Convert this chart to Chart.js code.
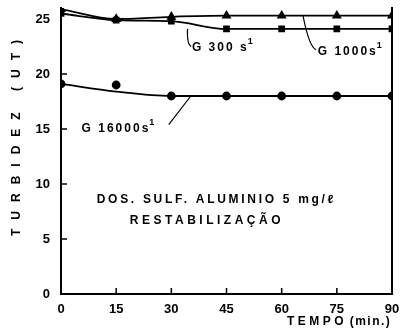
<!DOCTYPE html>
<html>
<head>
<meta charset="utf-8">
<script src="https://cdn.jsdelivr.net/npm/chart.js@4.4.1/dist/chart.umd.min.js"></script>
<style>
  html, body { margin: 0; padding: 0; background: #fff; }
  #wrap { width: 401px; height: 332px; }
</style>
</head>
<body>
<div id="wrap"><canvas id="turbChart" width="401" height="332"></canvas></div>
<script>
// time (min) and turbidity (UT) readings
const tempo = [0, 15, 30, 45, 60, 75, 90];
const g1000 = [25.9, 25.0, 25.2, 25.3, 25.3, 25.3, 25.3];
const g300 = [25.5, 24.9, 24.8, 24.1, 24.1, 24.1, 24.1];
const g16000 = [19.1, 19.0, 18.0, 18.0, 18.0, 18.0, 18.0];
// fitted curve drawn through the G 16000 points
const g16000Fit = [19.1, 18.4, 18.0, 18.0, 18.0, 18.0, 18.0];
const xTicks = [0, 15, 30, 45, 60, 75, 90];
const yTicks = [0, 5, 10, 15, 20, 25];

const pts = arr => tempo.map((t, i) => ({ x: t, y: arr[i] }));
const FONT = '"Liberation Sans", Arial, sans-serif';

function spacedText(ctx, text, x, y, font, spacing, align) {
    ctx.save();
    ctx.font = font;
    ctx.letterSpacing = spacing + 'px';
    const w = ctx.measureText(text).width - spacing;
    let x0 = x;
    if (align === 'center') x0 = x - w / 2;
    if (align === 'right') x0 = x - w;
    ctx.textAlign = 'left';
    ctx.textBaseline = 'middle';
    ctx.fillText(text, x0, y);
    ctx.restore();
    return x0 + w;
}

// G label with superscript "1"
function gLabel(ctx, text, x, y) {
    const end = spacedText(ctx, text, x, y, 'bold 12px ' + FONT, 2, 'left');
    ctx.save();
    ctx.font = 'bold 9px ' + FONT;
    ctx.textBaseline = 'middle';
    ctx.fillText('1', end + 1, y - 6);
    ctx.restore();
}

const decor = {
    id: 'decor',
    afterDraw(chart) {
        const ctx = chart.ctx;
        const xs = chart.scales.x, ys = chart.scales.y;
        const px = v => xs.getPixelForValue(v);
        const py = v => ys.getPixelForValue(v);
        ctx.save();
        ctx.strokeStyle = '#000';
        ctx.fillStyle = '#000';
        ctx.lineWidth = 1.5;

        // inward tick marks
        ctx.beginPath();
        xTicks.slice(1, -1).forEach(v => {
            ctx.moveTo(px(v), py(0));
            ctx.lineTo(px(v), py(0) - 6);
        });
        yTicks.slice(1, -1).forEach(v => {
            ctx.moveTo(px(0), py(v));
            ctx.lineTo(px(0) + 6, py(v));
        });
        ctx.stroke();

        // leader lines
        ctx.lineWidth = 1.2;
        ctx.beginPath();
        ctx.moveTo(px(34.4), py(24.1));
        ctx.quadraticCurveTo(px(34.2), py(22.7), px(35.4), py(22.5));
        ctx.moveTo(px(65.8), py(25.3));
        ctx.quadraticCurveTo(px(67.5), py(22.4), px(69.4), py(22.2));
        ctx.moveTo(px(35.3), py(18.0));
        ctx.lineTo(px(29.3), py(15.4));
        ctx.stroke();

        gLabel(ctx, 'G 300 s', px(35.6), py(22.4));
        gLabel(ctx, 'G 1000s', px(69.8), py(22.0));
        gLabel(ctx, 'G 16000s', px(5.6), py(15.0));

        // test conditions
        spacedText(ctx, 'DOS. SULF. ALUMINIO 5 mg/ℓ', px(41.9), py(8.6), 'bold 12px ' + FONT, 2.7, 'center');
        spacedText(ctx, 'RESTABILIZAÇÃO', px(39.2), py(6.7), 'bold 12px ' + FONT, 3.5, 'center');

        // axis titles
        const tEnd = spacedText(ctx, 'TEMPO', 287, 322, 'bold 12px ' + FONT, 3.5, 'left');
        spacedText(ctx, '(min.)', tEnd + 6, 322, 'bold 12px ' + FONT, 1.5, 'left');

        ctx.translate(17, 138);
        ctx.rotate(-Math.PI / 2);
        spacedText(ctx, 'TURBIDEZ (UT)', 0, 0, 'bold 12px ' + FONT, 9, 'center');
        ctx.restore();
    }
};

const markerStyle = {
    borderColor: '#000',
    backgroundColor: '#000',
    pointBackgroundColor: '#000',
    pointBorderColor: '#000',
    borderWidth: 1.8,
    cubicInterpolationMode: 'monotone'
};

new Chart(document.getElementById('turbChart'), {
    type: 'line',
    data: {
        datasets: [
            Object.assign({ label: 'G 1000 s-1', data: pts(g1000), pointStyle: 'triangle', pointRadius: 4 }, markerStyle),
            Object.assign({ label: 'G 300 s-1', data: pts(g300), pointStyle: 'rect', pointRadius: 3.5 }, markerStyle),
            Object.assign({ label: 'G 16000 s-1', data: pts(g16000), pointStyle: 'circle', pointRadius: 3.5, showLine: false }, markerStyle),
            Object.assign({ label: 'G 16000 ajuste', data: pts(g16000Fit), pointRadius: 0 }, markerStyle)
        ]
    },
    options: {
        responsive: false,
        animation: false,
        layout: { autoPadding: false, padding: { top: 8, right: 9, left: 0, bottom: 0 } },
        plugins: { legend: { display: false }, tooltip: { enabled: false } },
        scales: {
            x: {
                type: 'linear',
                min: 0,
                max: 90,
                afterBuildTicks: s => { s.ticks = xTicks.map(v => ({ value: v })); },
                afterFit: s => { s.height = 38; s.paddingLeft = 0; s.paddingRight = 0; },
                ticks: { color: '#000', font: { family: FONT, size: 13, weight: 'bold' }, padding: 8, maxRotation: 0 },
                grid: { display: false, drawTicks: false },
                border: { display: true, color: '#000', width: 2 }
            },
            y: {
                min: 0,
                max: 26,
                afterBuildTicks: s => { s.ticks = yTicks.map(v => ({ value: v })); },
                afterFit: s => { s.width = 61; s.paddingTop = 0; s.paddingBottom = 0; },
                ticks: { color: '#000', font: { family: FONT, size: 13, weight: 'bold' }, padding: 11 },
                grid: { display: false, drawTicks: false },
                border: { display: true, color: '#000', width: 2 }
            },
            y2: {
                position: 'right',
                min: 0,
                max: 26,
                afterFit: s => { s.width = 0; s.paddingTop = 0; s.paddingBottom = 0; },
                ticks: { display: false },
                grid: { display: false, drawTicks: false },
                border: { display: true, color: '#000', width: 2 }
            }
        }
    },
    plugins: [decor]
});
</script>
</body>
</html>
